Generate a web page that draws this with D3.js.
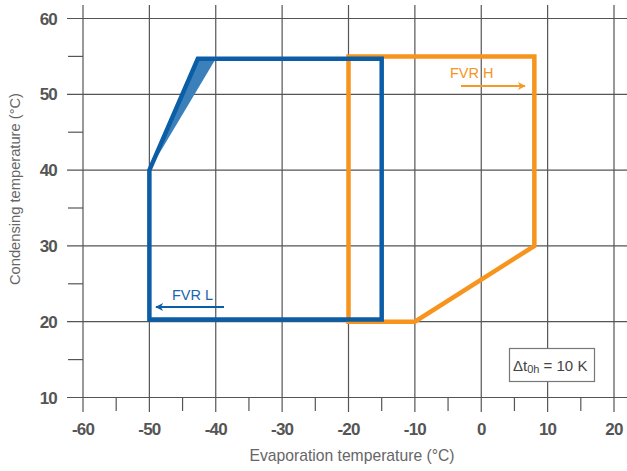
<!DOCTYPE html>
<html>
<head>
<meta charset="utf-8">
<script src="https://cdn.jsdelivr.net/npm/d3@7"></script>
<style>
body { margin: 0; background: #fff; }
text { font-family: "Liberation Sans", Arial, sans-serif; }
</style>
</head>
<body>
<script>
// data: [evaporation, condensing]
var fvrL = [[-50,20.3],[-50,40],[-42.7,54.7],[-15,54.7],[-15,20.3]];
var fvrLShade = [[-50,40],[-42.7,54.7],[-40,54.7]];
var fvrH = [[-20,20],[-20,55],[8,55],[8,30],[-10,20]];
var xTicks = [-60,-50,-40,-30,-20,-10,0,10,20];
var xMinor = [-55,-45,-35,-25,-15,-5,5,15];
var yTicks = [10,20,30,40,50,60];
var yMinor = [15,25,35,45,55];

var Width = 627, Height = 471;
var grid = "#555";

var svg = d3.select("body").append("svg")
	.attr("width", Width)
	.attr("height", Height);

var x = d3.scaleLinear().domain([-60,20]).range([83,614]);
var y = d3.scaleLinear().domain([10,60]).range([397.5,18.5]);

// vertical grid lines
svg.selectAll(".vg").data(xTicks).enter().append("line")
	.attr("x1", d => x(d)).attr("x2", d => x(d))
	.attr("y1", 5).attr("y2", 412)
	.attr("stroke", grid).attr("stroke-width", 1.2);
// horizontal grid lines
svg.selectAll(".hg").data(yTicks).enter().append("line")
	.attr("x1", 67).attr("x2", Width)
	.attr("y1", d => y(d)).attr("y2", d => y(d))
	.attr("stroke", grid).attr("stroke-width", 1.2);
// minor ticks
svg.selectAll(".xm").data(xMinor).enter().append("line")
	.attr("x1", d => x(d)).attr("x2", d => x(d))
	.attr("y1", y(10)).attr("y2", 411)
	.attr("stroke", grid).attr("stroke-width", 1.2);
svg.selectAll(".ym").data(yMinor).enter().append("line")
	.attr("x1", 68).attr("x2", x(-60))
	.attr("y1", d => y(d)).attr("y2", d => y(d))
	.attr("stroke", grid).attr("stroke-width", 1.2);

// tick labels
svg.selectAll(".xl").data(xTicks).enter().append("text")
	.attr("x", d => x(d)).attr("y", 435)
	.attr("text-anchor", "middle")
	.attr("font-size", 17).attr("font-weight", "bold")
	.attr("letter-spacing", -0.8)
	.attr("fill", "#555")
	.text(d => d);
svg.selectAll(".yl").data(yTicks).enter().append("text")
	.attr("x", 57).attr("y", d => y(d) + 6)
	.attr("text-anchor", "end")
	.attr("font-size", 17).attr("font-weight", "bold")
	.attr("letter-spacing", -0.8)
	.attr("fill", "#555")
	.text(d => d);

// axis titles
svg.append("text")
	.attr("x", 352).attr("y", 461)
	.attr("text-anchor", "middle")
	.attr("font-size", 15.7).attr("fill", "#666")
	.text("Evaporation temperature (°C)");
svg.append("text")
	.attr("transform", "translate(20,189) rotate(-90)")
	.attr("text-anchor", "middle")
	.attr("font-size", 14.7).attr("fill", "#666")
	.text("Condensing temperature (°C)");

var line = d3.line().x(d => x(d[0])).y(d => y(d[1]));

// FVR H envelope
svg.append("path")
	.attr("d", line(fvrH) + "Z")
	.attr("fill", "none")
	.attr("stroke", "#f7941d").attr("stroke-width", 4.5)
	.attr("stroke-linejoin", "miter");

// FVR L envelope
svg.append("path")
	.attr("d", line(fvrLShade) + "Z")
	.attr("fill", "#3b80bb").attr("stroke", "none");
svg.append("path")
	.attr("d", line(fvrL) + "Z")
	.attr("fill", "none")
	.attr("stroke", "#0b5ea6").attr("stroke-width", 4.5)
	.attr("stroke-linejoin", "miter");

// arrow markers
var defs = svg.append("defs");
function marker(id, col) {
	defs.append("marker")
		.attr("id", id)
		.attr("viewBox", "0 0 10 10")
		.attr("refX", 9).attr("refY", 5)
		.attr("markerWidth", 6).attr("markerHeight", 4)
		.attr("markerUnits", "strokeWidth")
		.attr("orient", "auto")
		.append("path").attr("d", "M0,0 L10,5 L0,10 L3,5 Z").attr("fill", col);
}
marker("ah", "#f59a2a");
marker("al", "#0b5ea6");

// labels
svg.append("text")
	.attr("x", 450).attr("y", 77.5)
	.attr("font-size", 14.5).attr("fill", "#f7941d")
	.text("FVR H");
svg.append("line")
	.attr("x1", 461).attr("x2", 525)
	.attr("y1", 86).attr("y2", 86)
	.attr("stroke", "#f59a2a").attr("stroke-width", 2)
	.attr("marker-end", "url(#ah)");

svg.append("text")
	.attr("x", 172).attr("y", 299.5)
	.attr("font-size", 14.5).attr("fill", "#1a66ad")
	.text("FVR L");
svg.append("line")
	.attr("x1", 224).attr("x2", 156)
	.attr("y1", 307).attr("y2", 307)
	.attr("stroke", "#0b5ea6").attr("stroke-width", 2)
	.attr("marker-end", "url(#al)");

// delta t box
svg.append("rect")
	.attr("x", 509.5).attr("y", 348.5)
	.attr("width", 85).attr("height", 33)
	.attr("fill", "#fff").attr("stroke", "#777").attr("stroke-width", 1.2);
var t = svg.append("text")
	.attr("x", 513).attr("y", 371)
	.attr("font-size", 15).attr("fill", "#444");
t.append("tspan").text("Δt");
t.append("tspan").attr("font-size", 11).attr("dy", 2).text("0h");
t.append("tspan").attr("dy", -2).text(" = 10 K");
</script>
</body>
</html>
